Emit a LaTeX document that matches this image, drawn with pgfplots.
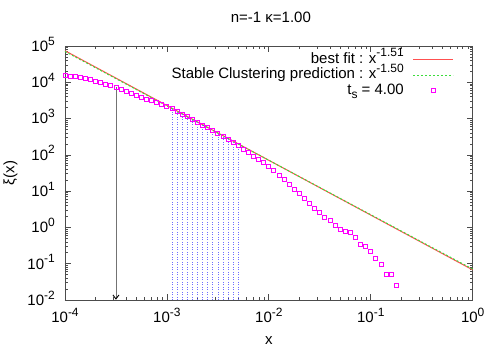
\documentclass[border=0pt]{standalone}
\usepackage{pgfplots}
\pgfplotsset{compat=1.18}
\usepackage{fontspec}
\setmainfont{Liberation Sans}
\usetikzlibrary{arrows.meta}
\newcommand\sups[1]{\raisebox{0.42em}{\fontsize{12bp}{12bp}\selectfont #1}}
\newcommand\subs[1]{\raisebox{-0.3em}{\fontsize{12bp}{12bp}\selectfont #1}}
\definecolor{fitred}{RGB}{255,80,80}
\definecolor{scgreen}{RGB}{60,220,60}
\definecolor{ptmag}{RGB}{255,0,255}
\definecolor{dotblue}{RGB}{110,110,255}
\pgfplotstableread{
x y
1.000e-4 15100
1.122e-4 14800
1.259e-4 14290
1.413e-4 13490
1.585e-4 12590
1.778e-4 11750
1.995e-4 10860
2.239e-4 9772
2.512e-4 8974
2.818e-4 8054
3.162e-4 7244
3.548e-4 6457
3.981e-4 5623
4.467e-4 5070
5.012e-4 4467
5.623e-4 3936
6.310e-4 3467
7.079e-4 3090
7.943e-4 2754
8.913e-4 2399
1.000e-3 2138
1.122e-3 1862
1.259e-3 1622
1.413e-3 1340
1.585e-3 1122
1.778e-3 933
1.995e-3 791
2.239e-3 667
2.512e-3 562
2.818e-3 463
3.162e-3 394
3.548e-3 331
3.981e-3 274
4.467e-3 222
5.012e-3 184
5.623e-3 145
6.310e-3 117
7.079e-3 93.3
7.943e-3 75.9
8.913e-3 61.0
1.000e-2 47.3
1.122e-2 36.7
1.259e-2 27.5
1.413e-2 20.4
1.585e-2 15.1
1.778e-2 11.3
1.995e-2 8.75
2.239e-2 6.21
2.512e-2 4.65
2.818e-2 3.44
3.162e-2 2.51
3.548e-2 1.83
3.981e-2 1.51
4.467e-2 1.17
5.012e-2 0.853
5.623e-2 0.752
6.310e-2 0.705
7.079e-2 0.514
7.943e-2 0.344
8.913e-2 0.296
1.000e-1 0.221
1.122e-1 0.142
1.259e-1 0.0927
1.413e-1 0.0491
1.585e-1 0.0491
1.778e-1 0.0249
}\pts
\begin{document}
\fontsize{15bp}{18bp}\selectfont
\begin{tikzpicture}
\begin{axis}[
 name=ax, at={(0,0)}, anchor=south west,
 scale only axis, width=407.7bp, height=254bp,
 xmode=log, ymode=log,
 xmin=1e-4, xmax=1, ymin=1e-2, ymax=1e5,
 xtick={1e-4,1e-3,1e-2,1e-1,1},
 xticklabels={10\sups{-4},10\sups{-3},10\sups{-2},10\sups{-1},10\sups{0}},
 ytick={1e-2,1e-1,1,1e1,1e2,1e3,1e4,1e5},
 yticklabels={10\sups{-2},10\sups{-1},10\sups{0},10\sups{1},10\sups{2},10\sups{3},10\sups{4},10\sups{5}},
 tick align=inside, major tick length=6bp, minor tick length=3bp,
 axis line style={black!70, line width=0.9bp},
 every tick/.style={black!70, line width=0.7bp},
 xticklabel style={anchor=base, yshift=-22.7bp, inner sep=0pt},
 yticklabel style={anchor=base east, xshift=-10bp, yshift=-5.3bp, inner sep=0pt},
 xlabel={x}, ylabel={ξ(x)},
 xlabel style={at={([yshift=-44bp]axis description cs:0.5,0)}, anchor=base, inner sep=0pt},
 ylabel style={at={([xshift=-54.5bp]axis description cs:0,0.5)}, anchor=center, inner sep=0pt},
 title={n=-1 κ=1.00},
 title style={at={([xshift=2bp,yshift=17.7bp]axis description cs:0.5,1)}, anchor=base, inner sep=0pt},
 legend plot pos=right,
 legend cell align=right,
 legend style={at={([xshift=-18.7bp,yshift=-7bp]axis description cs:1,1)}, anchor=north east,
   draw=none, fill=none, inner sep=0pt, column sep=9bp, row sep=2.5bp,
   nodes={inner sep=0pt, text height=10bp, text depth=3bp}},
 legend image code/.code={\draw[mark repeat=2,mark phase=2,#1] plot coordinates {(0bp,0bp) (20bp,0bp) (40bp,0bp)};},
 unbounded coords=jump,
]
\addplot[fitred, line width=1bp] coordinates {(1e-4,74131) (1,0.0676)};
\addlegendentry{best fit : x\sups{-1.51}}
\addplot[scgreen, line width=1bp, dash pattern=on 2bp off 2bp] coordinates {(1e-4,70795) (1,0.0708)};
\addlegendentry{Stable Clustering prediction : x\sups{-1.50}}
\addplot[color=ptmag, only marks, mark=square, mark size=2bp, line width=0.9bp, mark options={solid, draw=ptmag, fill=none}] table[x=x,y=y] {\pts};
\addlegendentry{t\subs{s} = 4.00}
\addplot[dotblue, line width=0.7bp, dash pattern=on 1bp off 1.5bp, forget plot] coordinates {
(1.122e-3,0.01) (1.122e-3,1862) (1.122e-3,nan)
(1.259e-3,0.01) (1.259e-3,1622) (1.259e-3,nan)
(1.413e-3,0.01) (1.413e-3,1340) (1.413e-3,nan)
(1.585e-3,0.01) (1.585e-3,1122) (1.585e-3,nan)
(1.778e-3,0.01) (1.778e-3,933) (1.778e-3,nan)
(1.995e-3,0.01) (1.995e-3,791) (1.995e-3,nan)
(2.239e-3,0.01) (2.239e-3,667) (2.239e-3,nan)
(2.512e-3,0.01) (2.512e-3,562) (2.512e-3,nan)
(2.818e-3,0.01) (2.818e-3,463) (2.818e-3,nan)
(3.162e-3,0.01) (3.162e-3,394) (3.162e-3,nan)
(3.548e-3,0.01) (3.548e-3,331) (3.548e-3,nan)
(3.981e-3,0.01) (3.981e-3,274) (3.981e-3,nan)
(4.467e-3,0.01) (4.467e-3,222) (4.467e-3,nan)
(5.012e-3,0.01) (5.012e-3,184)
};
\addplot[black!55, line width=0.9bp, -{Straight Barb[black, length=4bp, width=6bp]}, forget plot] coordinates {(3.162e-4,7244) (3.162e-4,0.0102)};
\end{axis}
\pgfresetboundingbox
\path[use as bounding box] (-65bp,-50bp) rectangle (435bp,300bp);
\end{tikzpicture}
\end{document}
